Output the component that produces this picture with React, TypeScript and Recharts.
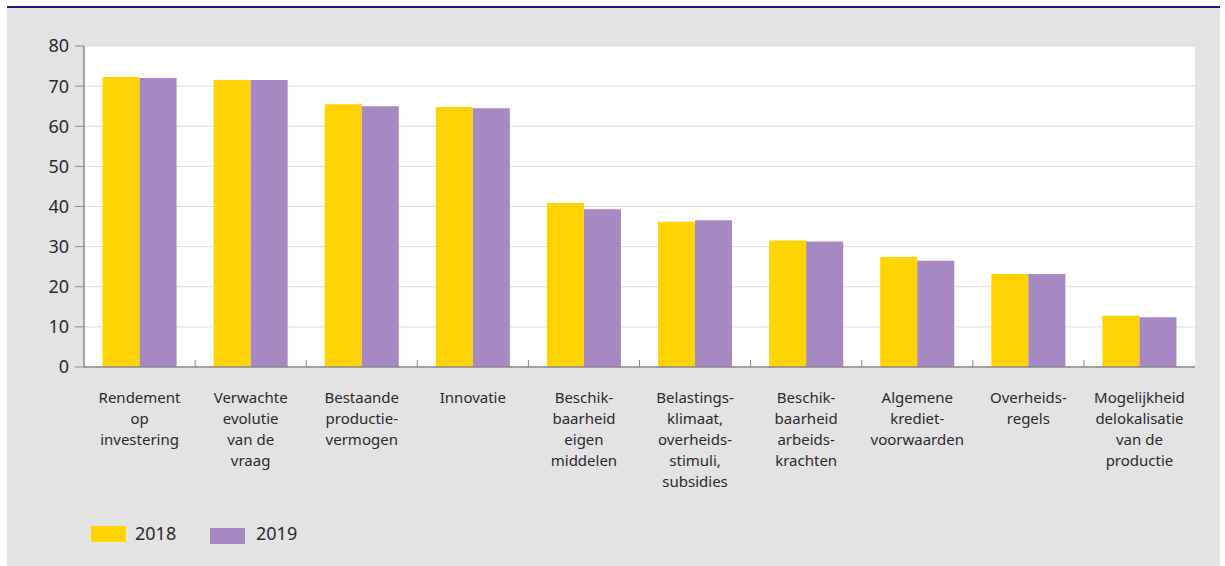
import React from 'react';
import { BarChart, Bar, XAxis, YAxis, CartesianGrid } from 'recharts';

const categories: string[] = [
  'Rendement\nop\ninvestering',
  'Verwachte\nevolutie\nvan de\nvraag',
  'Bestaande\nproductie-\nvermogen',
  'Innovatie',
  'Beschik-\nbaarheid\neigen\nmiddelen',
  'Belastings-\nklimaat,\noverheids-\nstimuli,\nsubsidies',
  'Beschik-\nbaarheid\narbeids-\nkrachten',
  'Algemene\nkrediet-\nvoorwaarden',
  'Overheids-\nregels',
  'Mogelijkheid\ndelokalisatie\nvan de\nproductie',
];
const values2018: number[] = [72.3, 71.5, 65.5, 64.8, 40.9, 36.2, 31.5, 27.4, 23.2, 12.8];
const values2019: number[] = [72.0, 71.5, 65.0, 64.5, 39.3, 36.6, 31.3, 26.5, 23.2, 12.4];
const yTicks: number[] = [0, 10, 20, 30, 40, 50, 60, 70, 80];
const seriesNames: string[] = ['2018', '2019'];

const data = categories.map((c, i) => ({ name: c, v2018: values2018[i], v2019: values2019[i] }));

const FONT = "'Noto Sans', 'Open Sans', sans-serif";
const CHART_W = 1213;
const CHART_H = 558;
const M = { top: 38, right: 25, left: 0, bottom: 0 };
const YW = 77;
const YELLOW = '#FFD400';
const PURPLE = '#A688C2';

const plotWidth = CHART_W - M.left - M.right - YW;
const band = plotWidth / categories.length;

const XTick = (props: any) => {
  const { x, y, payload, index } = props;
  const lines = String(payload.value).split('\n');
  return (
    <g>
      {index < categories.length - 1 && (
        <line x1={x + band / 2} y1={y} x2={x + band / 2} y2={y - 7} stroke="#888" strokeWidth={1} />
      )}
      <text textAnchor="middle" fill="#2a2a2a" fontSize={15} fontFamily={FONT}>
        {lines.map((l, i) => (
          <tspan key={i} x={x} y={y + 30 + i * 21} dominantBaseline="central">
            {l}
          </tspan>
        ))}
      </text>
    </g>
  );
};

export default function App() {
  return (
    <div
      style={{
        position: 'absolute',
        left: 7,
        top: 6,
        width: CHART_W,
        height: CHART_H,
        borderTop: '2px solid #1a1a80',
        background: '#e3e3e3',
        fontFamily: FONT,
      }}
    >
      <BarChart
        width={CHART_W}
        height={CHART_H}
        data={data}
        margin={M}
        barCategoryGap="16.7%"
        barGap={0}
      >
        <CartesianGrid vertical={false} stroke="#dcdcdc" fill="#ffffff" />
        <XAxis
          dataKey="name"
          interval={0}
          height={199}
          tickSize={0}
          tickMargin={0}
          tickLine={false}
          axisLine={{ stroke: '#888', strokeWidth: 1.5 }}
          tick={<XTick />}
        />
        <XAxis xAxisId="top" orientation="top" height={0} tick={false} tickLine={false} axisLine={{ stroke: '#b0b0b0', strokeWidth: 1.5 }} />
        <YAxis
          domain={[0, 80]}
          ticks={yTicks}
          width={YW}
          tickSize={9}
          tickMargin={6}
          interval={0}
          tick={{ fill: '#2a2a2a', fontSize: 18, fontFamily: FONT }}
          tickLine={{ stroke: '#888' }}
          axisLine={{ stroke: '#888', strokeWidth: 1.5 }}
        />
        <YAxis yAxisId="right" orientation="right" width={0} domain={[0, 80]} tick={false} tickLine={false} axisLine={{ stroke: '#a8a8a8', strokeWidth: 1.5 }} />
        <Bar dataKey="v2018" name={seriesNames[0]} fill={YELLOW} isAnimationActive={false} />
        <Bar dataKey="v2019" name={seriesNames[1]} fill={PURPLE} isAnimationActive={false} />
      </BarChart>
      <div style={{ position: 'absolute', left: 84, top: 518, width: 35, height: 16, background: YELLOW }} />
      <div style={{ position: 'absolute', left: 128, top: 513, fontSize: 18, color: '#2a2a2a', lineHeight: '24px' }}>{seriesNames[0]}</div>
      <div style={{ position: 'absolute', left: 203, top: 520, width: 35, height: 16, background: PURPLE }} />
      <div style={{ position: 'absolute', left: 249, top: 513, fontSize: 18, color: '#2a2a2a', lineHeight: '24px' }}>{seriesNames[1]}</div>
    </div>
  );
}
